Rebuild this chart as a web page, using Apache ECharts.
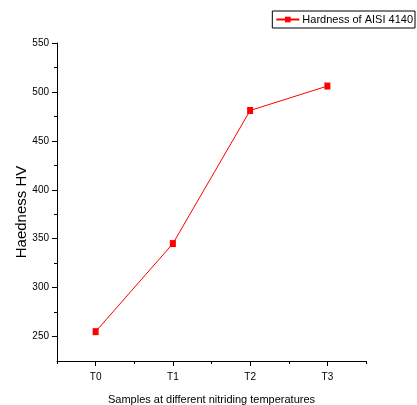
<!DOCTYPE html>
<html><head><meta charset="utf-8">
<script src="https://cdn.jsdelivr.net/npm/echarts@6/dist/echarts.min.js"></script>
<style>html,body{margin:0;padding:0;background:#fff}#c{width:417px;height:405px}</style>
</head><body><div id="c"></div>
<script>
const categories = ['T0', 'T1', 'T2', 'T3'];
const hardness = [255, 345, 481, 506];
const yMajorTicks = [250, 300, 350, 400, 450, 500, 550];
const yMinorTicks = [275, 325, 375, 425, 475, 525];
const seriesName = 'Hardness of AISI 4140';

const FONT = "'Liberation Sans',Arial,sans-serif";
const chart = echarts.init(document.getElementById('c'), null, {renderer: 'canvas'});
const axisLine = {show: true, lineStyle: {color: '#000', width: 1}};
chart.setOption({
  animation: false,
  backgroundColor: '#fff',
  grid: {left: 57, right: 51, top: 43, bottom: 44, containLabel: false, outerBoundsMode: 'none'},
  legend: {
    data: [seriesName], right: 2, top: 11,
    borderColor: '#000', borderWidth: 1, borderRadius: 0,
    padding: [3, 2, 3, 3], itemWidth: 23, itemHeight: 7, itemGap: 4,
    textStyle: {fontFamily: FONT, fontSize: 11, color: '#000', padding: [0, 0, 0, -2]}
  },
  xAxis: [{
    type: 'category', data: categories, boundaryGap: true,
    axisLine: axisLine,
    axisTick: {show: true, alignWithLabel: true, length: 5, inside: false, lineStyle: {color: '#000'}},
    axisLabel: {fontFamily: FONT, fontSize: 10, color: '#000', margin: 11},
    splitLine: {show: false},
    name: 'Samples at different nitriding temperatures', nameLocation: 'middle', nameGap: 33,
    nameMoveOverlap: false,
    nameTextStyle: {fontFamily: FONT, fontSize: 11, color: '#000'}
  }, {
    type: 'category', data: categories, boundaryGap: true, position: 'bottom',
    axisLine: {show: false},
    axisTick: {show: true, length: 3, lineStyle: {color: '#000'}},
    axisLabel: {show: false}, splitLine: {show: false}
  }],
  yAxis: [{
    type: 'value', min: 225, max: 550,
    axisLine: axisLine,
    axisTick: {show: true, length: 5, customValues: yMajorTicks, lineStyle: {color: '#000'}},
    axisLabel: {fontFamily: FONT, fontSize: 10, color: '#000', margin: 8, customValues: yMajorTicks},
    splitLine: {show: false},
    name: 'Haedness HV', nameLocation: 'middle', nameGap: 28,
    nameMoveOverlap: false,
    nameTextStyle: {fontFamily: FONT, fontSize: 15, color: '#000', padding: [0, 20, 0, 0]}
  }, {
    type: 'value', min: 225, max: 550, position: 'left',
    axisLine: {show: false},
    axisTick: {show: true, length: 3, customValues: yMinorTicks, lineStyle: {color: '#000'}},
    axisLabel: {show: false}, splitLine: {show: false}
  }],
  series: [{
    name: seriesName, type: 'line', data: hardness,
    xAxisIndex: 0, yAxisIndex: 0,
    symbol: 'rect', symbolSize: [6, 7],
    lineStyle: {color: '#ff0000', width: 1},
    itemStyle: {color: '#ff0000'}
  }]
});
</script></body></html>
